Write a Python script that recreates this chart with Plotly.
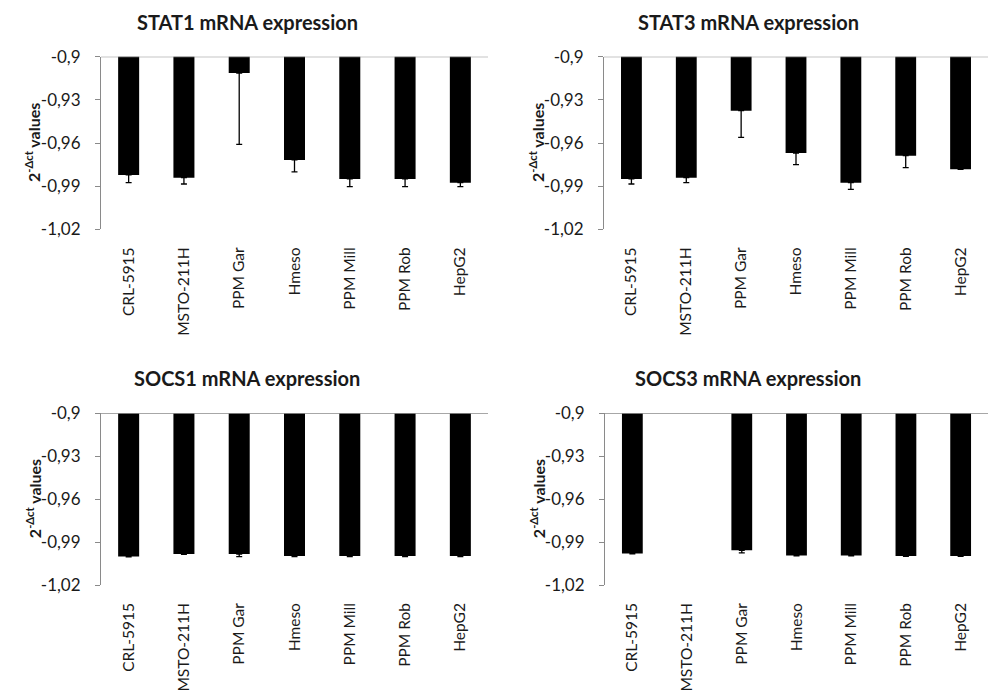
import plotly.graph_objects as go

CATEGORIES = ["CRL-5915", "MSTO-211H", "PPM Gar", "Hmeso", "PPM Mill", "PPM Rob", "HepG2"]

STAT1_VALUES = [-0.9822, -0.9841, -0.9114, -0.9718, -0.9850, -0.9850, -0.9876]
STAT1_ERRORS = [0.0054, 0.0044, 0.0495, 0.0083, 0.0053, 0.0053, 0.0027]

STAT3_VALUES = [-0.9850, -0.9841, -0.9375, -0.9670, -0.9876, -0.9688, -0.9783]
STAT3_ERRORS = [0.0035, 0.0035, 0.0186, 0.0081, 0.0046, 0.0083, 0.0]

SOCS1_VALUES = [-1.0000, -0.9984, -0.9984, -0.9997, -0.9997, -0.9997, -0.9997]
SOCS1_ERRORS = [0.0004, 0.0002, 0.0018, 0.0004, 0.0004, 0.0004, 0.0004]

SOCS3_VALUES = [-0.9979, None, -0.9958, -0.9993, -0.9993, -0.9997, -0.9997]
SOCS3_ERRORS = [0.0004, 0.0, 0.0017, 0.0004, 0.0004, 0.0003, 0.0003]

TITLES = ["STAT1 mRNA expression", "STAT3 mRNA expression",
          "SOCS1 mRNA expression", "SOCS3 mRNA expression"]

TICK_VALUES = [-0.9, -0.93, -0.96, -0.99, -1.02]
TICK_LABELS = ["-0,9", "-0,93", "-0,96", "-0,99", "-1,02"]
Y_RANGE = [-1.02, -0.9]
Y_TITLE = "2<sup>-\u0394ct</sup> values"

W, H = 990, 693
FONT = "Lato, 'Open Sans', sans-serif"
AXIS_GRAY = "#8a8a8a"
TEXT = "#1a1a1a"

# panel geometry in pixels (left, right, top, bottom)
panels = [
    (101, 488, 56.7, 229.3),
    (604, 988, 56.7, 229.3),
    (101, 488, 413.3, 585.0),
    (605, 988, 413.3, 585.0),
]
title_pos = [(247, 22), (748, 22), (247, 378), (748, 378)]
ytitle_x = [33, 537, 33, 537]

series = [
    (STAT1_VALUES, STAT1_ERRORS),
    (STAT3_VALUES, STAT3_ERRORS),
    (SOCS1_VALUES, SOCS1_ERRORS),
    (SOCS3_VALUES, SOCS3_ERRORS),
]

fig = go.Figure()
annotations = []
shapes = []

for i, ((vals, errs), (l, r, t, b)) in enumerate(zip(series, panels)):
    n = "" if i == 0 else str(i + 1)
    xa, ya = "x" + n, "y" + n
    fig.add_trace(go.Bar(
        x=CATEGORIES, y=vals, xaxis=xa, yaxis=ya,
        marker=dict(color="black", line=dict(width=0)),
        error_y=dict(type="data", symmetric=False,
                     array=[0] * len(errs), arrayminus=errs,
                     color="black", thickness=1.3, width=3),
        showlegend=False,
    ))
    xkey = "xaxis" + n
    ykey = "yaxis" + n
    fig.layout[xkey] = dict(
        domain=[l / W, r / W], anchor=ya, showline=False, showgrid=False,
        zeroline=False, ticks="", tickangle=-90, automargin=False,
        tickfont=dict(family=FONT, size=15.5, color=TEXT),
        ticklabelstandoff=14, fixedrange=True,
    )
    fig.layout[ykey] = dict(
        domain=[1 - b / H, 1 - t / H], anchor=xa, range=Y_RANGE,
        tickvals=TICK_VALUES, ticktext=TICK_LABELS, automargin=False,
        showline=True, linecolor=AXIS_GRAY, linewidth=1,
        ticks="outside", ticklen=5, tickcolor=AXIS_GRAY, tickwidth=1,
        showgrid=False, zeroline=False,
        tickfont=dict(family=FONT, size=17, color=TEXT),
        ticklabelstandoff=11, fixedrange=True,
    )
    # top baseline of the horizontal axis (crosses at max value)
    shapes.append(dict(type="line", xref=xa + " domain", yref=ya,
                       x0=0, x1=1, y0=Y_RANGE[1], y1=Y_RANGE[1],
                       line=dict(color=AXIS_GRAY, width=1.2), layer="above"))
    tx, ty = title_pos[i]
    annotations.append(dict(text="<b>" + TITLES[i] + "</b>", xref="paper", yref="paper",
                            x=tx / W, y=1 - ty / H, xanchor="center", yanchor="middle",
                            showarrow=False, font=dict(family=FONT, size=20, color=TEXT)))
    annotations.append(dict(text="<b>" + Y_TITLE + "</b>", xref="paper", yref="paper",
                            x=ytitle_x[i] / W, y=1 - ((t + b) / 2) / H, textangle=-90,
                            xanchor="center", yanchor="middle", showarrow=False,
                            font=dict(family=FONT, size=16, color=TEXT)))

fig.update_layout(
    width=W, height=H, margin=dict(l=0, r=0, t=0, b=0),
    paper_bgcolor="white", plot_bgcolor="white",
    bargap=0.62, annotations=annotations, shapes=shapes,
    font=dict(family=FONT, color=TEXT),
)

fig.write_html("out.html")
